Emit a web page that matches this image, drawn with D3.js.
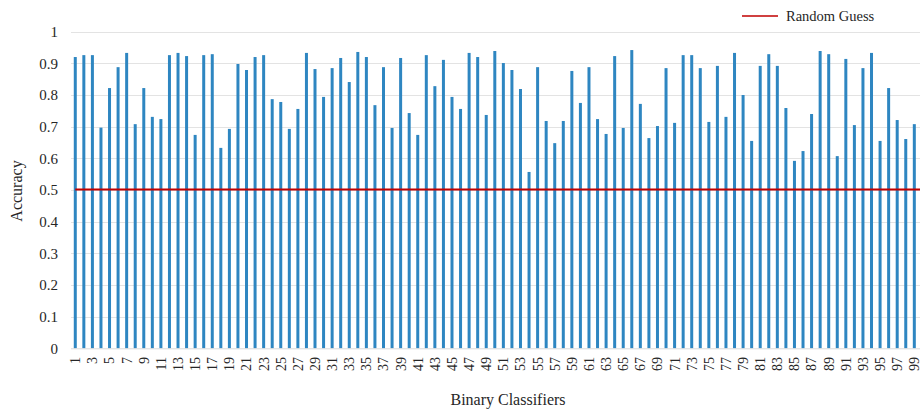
<!DOCTYPE html>
<html>
<head>
<meta charset="utf-8">
<script src="https://cdn.jsdelivr.net/npm/d3@7"></script>
<style>
  body { margin: 0; background: #fff; }
  svg text { font-family: "Liberation Serif", "Times New Roman", serif; fill: #262626; }
</style>
</head>
<body>
<svg id="chart" width="920" height="409"></svg>
<script>
// accuracy of each binary classifier
var classifiers = d3.range(1, 100);
var accuracy = [
    0.920, 0.926, 0.926, 0.697, 0.822, 0.888, 0.933, 0.708, 0.822, 0.731,
    0.724, 0.926, 0.933, 0.923, 0.674, 0.926, 0.929, 0.633, 0.693, 0.898,
    0.879, 0.920, 0.926, 0.787, 0.778, 0.693, 0.756, 0.933, 0.882, 0.794,
    0.885, 0.917, 0.841, 0.936, 0.920, 0.768, 0.888, 0.696, 0.917, 0.743,
    0.674, 0.926, 0.828, 0.911, 0.794, 0.756, 0.933, 0.920, 0.737, 0.939,
    0.901, 0.879, 0.819, 0.557, 0.888, 0.718, 0.648, 0.718, 0.876, 0.775,
    0.888, 0.724, 0.677, 0.923, 0.696, 0.942, 0.772, 0.664, 0.702, 0.885,
    0.712, 0.926, 0.926, 0.885, 0.715, 0.892, 0.731, 0.933, 0.800, 0.655,
    0.892, 0.929, 0.892, 0.759, 0.592, 0.623, 0.740, 0.939, 0.929, 0.607,
    0.914, 0.705, 0.885, 0.933, 0.655, 0.822, 0.721, 0.661, 0.708
];
var randomGuess = 0.5;
var yTicks = [0, 0.1, 0.2, 0.3, 0.4, 0.5, 0.6, 0.7, 0.8, 0.9, 1];

var svg = d3.select("#chart");
var plotLeft = 71, plotRight = 918.6, plotTop = 31.7, plotBottom = 348.3;

var x = d3.scaleBand()
    .domain(classifiers)
    .range([plotLeft, plotRight])
    .paddingInner(0.65)
    .paddingOuter(0.325);
var y = d3.scaleLinear().domain([0, 1]).range([plotBottom, plotTop]);

// gridlines
svg.append("g").selectAll("line")
    .data(yTicks.slice(1))
    .enter().append("line")
    .attr("x1", plotLeft).attr("x2", 920)
    .attr("y1", function (d) { return Math.round(y(d)) + 0.5; })
    .attr("y2", function (d) { return Math.round(y(d)) + 0.5; })
    .style("stroke", "#e3e3e3").style("stroke-width", 1);

// bars
svg.append("g").selectAll("rect")
    .data(accuracy)
    .enter().append("rect")
    .attr("x", function (d, i) { return x(classifiers[i]); })
    .attr("width", x.bandwidth())
    .attr("y", function (d) { return y(d); })
    .attr("height", function (d) { return y(0) - y(d); })
    .style("fill", "#2e86c1");

// axis line
svg.append("line")
    .attr("x1", plotLeft).attr("x2", 920)
    .attr("y1", plotBottom + 0.5).attr("y2", plotBottom + 0.5)
    .style("stroke", "#d9d9d9").style("stroke-width", 1);

// random guess line
svg.append("line")
    .attr("x1", x(1) + x.bandwidth() / 2).attr("x2", 920)
    .attr("y1", y(randomGuess) - 0.5).attr("y2", y(randomGuess) - 0.5)
    .style("stroke", "#c00000").style("stroke-width", 2);

// y axis labels
svg.append("g").selectAll("text")
    .data(yTicks)
    .enter().append("text")
    .attr("x", 58)
    .attr("y", function (d) { return y(d); })
    .attr("dy", "0.35em")
    .attr("text-anchor", "end")
    .attr("font-size", "15px")
    .text(function (d) { return d3.format("~g")(d); });

// x axis labels, every other classifier
svg.append("g").selectAll("text")
    .data(classifiers.filter(function (d) { return d % 2 == 1; }))
    .enter().append("text")
    .attr("transform", function (d) {
        return "translate(" + (x(d) + x.bandwidth() / 2) + ",357) rotate(-90)";
    })
    .attr("dy", "0.35em")
    .attr("text-anchor", "end")
    .attr("font-size", "14px")
    .text(function (d) { return d; });

// axis titles
svg.append("text")
    .attr("transform", "translate(22,191) rotate(-90)")
    .attr("text-anchor", "middle")
    .attr("font-size", "16px")
    .text("Accuracy");
svg.append("text")
    .attr("x", 508).attr("y", 405)
    .attr("text-anchor", "middle")
    .attr("font-size", "16px")
    .text("Binary Classifiers");

// legend
svg.append("line")
    .attr("x1", 742).attr("x2", 778)
    .attr("y1", 16).attr("y2", 16)
    .style("stroke", "#c00000").style("stroke-width", 1.5);
svg.append("text")
    .attr("x", 786).attr("y", 20.5)
    .attr("font-size", "14.5px")
    .text("Random Guess");
</script>
</body>
</html>
